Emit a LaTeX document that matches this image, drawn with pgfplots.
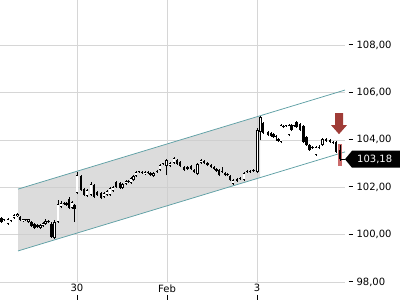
\documentclass[border=0pt]{standalone}
\usepackage{fontspec}
\setmainfont{DejaVu Sans}
\usepackage{pgfplots}
\usepackage{pgfplotstable}
\pgfplotsset{compat=1.18}
\definecolor{chan}{RGB}{95,160,165}
\definecolor{gridc}{RGB}{214,214,214}
\definecolor{fillc}{RGB}{205,205,205}
\definecolor{arrowred}{RGB}{160,60,55}
\definecolor{barred}{RGB}{190,70,70}

\pgfplotstableread{
x o c h l
1.5 100.70 100.53 100.74 100.49
4 100.62 100.62 100.66 100.57
8 100.45 100.66 100.70 100.41
11 100.57 100.57 100.62 100.53
14 100.70 100.83 100.87 100.66
17.5 100.78 100.87 100.91 100.74
20 100.74 100.62 100.78 100.57
23 100.57 100.66 100.66 100.53
25.5 100.62 100.62 100.66 100.57
28.5 100.53 100.66 100.66 100.49
31.5 100.53 100.36 100.57 100.32
34.5 100.45 100.28 100.49 100.24
37.5 100.41 100.32 100.45 100.28
40.5 100.28 100.41 100.45 100.24
43 100.36 100.49 100.53 100.32
45.5 100.45 100.57 100.66 100.41
48.5 100.57 100.53 100.62 100.49
51.5 100.45 99.90 100.53 99.86
54.5 99.86 100.53 100.62 99.81
58 100.53 101.29 101.46 100.49
61 101.16 101.33 101.42 101.12
64 101.33 101.29 101.38 101.25
66.5 101.33 101.25 101.38 101.21
69 101.50 101.12 101.59 101.08
72 101.12 101.38 101.42 101.08
74.5 101.25 101.08 101.29 100.53
77 101.76 102.51 102.64 101.71
81 102.47 101.88 102.51 101.84
84 101.92 101.67 101.97 101.63
87 101.63 101.88 101.92 101.59
91 101.67 102.14 102.22 101.63
94 102.09 101.59 102.14 101.54
97 101.80 101.67 101.84 101.63
101 101.76 101.54 101.80 101.50
104 101.59 101.76 101.80 101.54
107 101.67 101.84 101.88 101.63
110 101.67 101.97 102.01 101.63
113 101.84 102.01 102.05 101.80
116 102.22 102.01 102.26 101.97
120 102.18 101.97 102.22 101.92
122.5 101.97 102.14 102.18 101.92
126 102.14 102.26 102.30 102.09
128.5 102.26 102.22 102.30 102.18
131 102.18 102.39 102.43 102.14
133.5 102.30 102.47 102.51 102.26
136 102.47 102.64 102.68 102.43
139 102.64 102.64 102.68 102.60
142 102.60 102.64 102.68 102.56
145 102.56 102.64 102.68 102.51
148 102.64 102.60 102.68 102.56
150.5 102.60 102.51 102.64 102.47
153.5 102.47 102.60 102.64 102.43
157 102.64 102.68 102.73 102.60
160 102.73 102.94 102.98 102.68
163 102.98 102.98 103.02 102.94
166.5 102.89 103.15 103.19 102.51
170 102.89 103.02 103.06 102.85
174 103.02 103.23 103.27 102.98
177 103.15 102.98 103.19 102.94
180 103.06 102.89 103.11 102.85
184 102.85 102.73 102.89 102.68
187.5 102.85 102.77 102.89 102.73
191 102.89 102.77 102.94 102.73
194 102.73 102.64 102.77 102.60
197.5 102.56 102.98 103.02 102.51
201 103.02 103.15 103.19 102.98
204 103.11 103.02 103.15 102.98
207.5 103.02 102.94 103.06 102.89
211 102.94 102.85 102.98 102.81
214 102.85 102.77 102.89 102.73
216.5 102.77 102.68 102.81 102.64
219 102.73 102.51 102.77 102.47
222 102.68 102.64 102.85 102.60
225 102.60 102.51 102.64 102.47
227.5 102.56 102.51 102.60 102.47
230 102.47 102.30 102.51 102.26
233 102.14 102.30 102.35 102.09
237 102.35 102.26 102.39 102.22
240 102.39 102.35 102.43 102.30
244 102.30 102.60 102.64 102.26
247 102.68 102.64 102.73 102.60
250 102.68 102.64 102.73 102.60
253.5 102.73 102.68 102.77 102.64
257.5 102.64 104.41 104.50 102.60
260.5 104.33 104.96 105.00 103.99
263 104.71 104.29 104.75 104.24
268 104.33 104.20 104.37 104.16
271 104.29 104.16 104.33 104.12
273.5 104.24 104.12 104.29 104.08
276 104.16 104.12 104.20 103.95
278.5 104.03 103.95 104.08 103.91
281 103.91 104.62 104.67 103.86
283.5 104.58 104.54 104.62 104.50
286 104.58 104.58 104.62 104.54
289 104.20 104.62 104.67 104.16
291.5 104.62 104.41 104.67 104.37
294 104.58 104.58 104.62 104.54
296.5 104.75 104.54 104.79 104.50
300 104.67 104.41 104.71 104.37
303.5 104.58 103.91 104.62 103.86
306.5 104.12 103.78 104.16 103.74
309.5 103.78 103.57 103.82 103.53
312.5 103.70 103.65 103.74 103.61
316 103.36 103.70 103.74 103.32
319 103.70 103.65 103.78 103.61
322.5 103.78 104.03 104.08 103.74
326 104.03 103.95 104.08 103.91
330 103.99 103.91 104.03 103.86
333 103.91 103.86 103.95 103.82
336 103.91 103.49 103.95 103.44
340 103.57 103.19 103.78 103.11
}\candles

\begin{document}
\begin{tikzpicture}
\begin{axis}[
  scale only axis, width=345pt, height=282pt,
  xmin=0, xmax=345, ymin=98, ymax=109.9,
  clip=false,
  axis line style={draw=none},
  tick style={draw=none},
  xtick={77,167,257}, xticklabels={30,Feb,3},
  ytick={98,100,...,108},
  yticklabel pos=right,
  grid=major, grid style={gridc, line width=0.6pt},
  /pgf/number format/.cd, fixed, fixed zerofill, precision=2, use comma, assume math mode=true,
  /pgfplots/.cd,
  yticklabel={\rule[3.3pt]{4.5pt}{0.7pt}\hspace{3.5pt}\pgfmathprintnumber{\tick}},
  yticklabel style={anchor=west, xshift=0pt},
  xticklabel style={yshift=1pt},
  tick label style={font=\fontsize{10}{12}\selectfont, text=black},
]
% channel fill
\addplot[fill=fillc, fill opacity=0.7, draw=none] coordinates {(18,101.92) (260,105.01) (260,102.40) (18,99.31)} -- cycle;
% channel lines
\addplot[chan, line width=0.75pt] coordinates {(18,101.92) (345,106.10)};
\addplot[chan, line width=0.75pt] coordinates {(18,99.31) (345,103.49)};
% highlight bar for last candle
\fill[barred, opacity=0.8] (axis cs:338.3,103.84) rectangle (axis cs:342.2,102.89);
% wicks
\addplot[draw=none, mark=none, error bars/.cd, y dir=plus, y explicit, error mark=none,
  error bar style={draw=black, line width=0.8pt}]
  table[x=x, y=l, y error plus expr={\thisrow{h}-\thisrow{l}}] {\candles};
% bodies (black)
\addplot[draw=none, mark=none, error bars/.cd, y dir=plus, y explicit, error mark=none,
  error bar style={draw=black, line width=2.7pt}]
  table[x=x, y expr={min(\thisrow{o},\thisrow{c})}, y error plus expr={max(abs(\thisrow{c}-\thisrow{o}),0.05)}] {\candles};
% bodies (white interior of rising candles)
\addplot[draw=none, mark=none, error bars/.cd, y dir=plus, y explicit, error mark=none,
  error bar style={draw=white, line width=1.3pt}]
  table[x=x, y expr={\thisrow{o}+0.03}, y error plus expr={(\thisrow{c}>\thisrow{o})*max(\thisrow{c}-\thisrow{o}-0.06,0)}] {\candles};
% close line to label
\draw[black, line width=1pt] (axis cs:340,103.18) -- (axis cs:345,103.18);
% price label
\fill[black] (axis cs:345,103.18) -- ++(7pt,8.5pt) -- ++(48pt,0pt) -- ++(0pt,-17pt) -- ++(-48pt,0pt) -- cycle;
\node[anchor=west, text=white, font=\fontsize{10}{12}\selectfont, inner sep=0pt] at ([xshift=12pt]axis cs:345,103.18) {103,18};
% red arrow
\fill[arrowred] (axis cs:335,105.13) -- (axis cs:343,105.13) -- (axis cs:343,104.62) -- (axis cs:347,104.62)
  -- (axis cs:339,104.24) -- (axis cs:331,104.62) -- (axis cs:335,104.62) -- cycle;
% small x ticks below labels
\pgfplotsinvokeforeach{77,167,257}{\draw[black, line width=0.7pt] (axis cs:#1,98) ++(0pt,-13pt) -- ++(0pt,-5pt);}
\end{axis}
\pgfresetboundingbox
\useasboundingbox ([yshift=-18pt]current axis.south west) rectangle ([xshift=55pt]current axis.north east);
\end{tikzpicture}
\end{document}
